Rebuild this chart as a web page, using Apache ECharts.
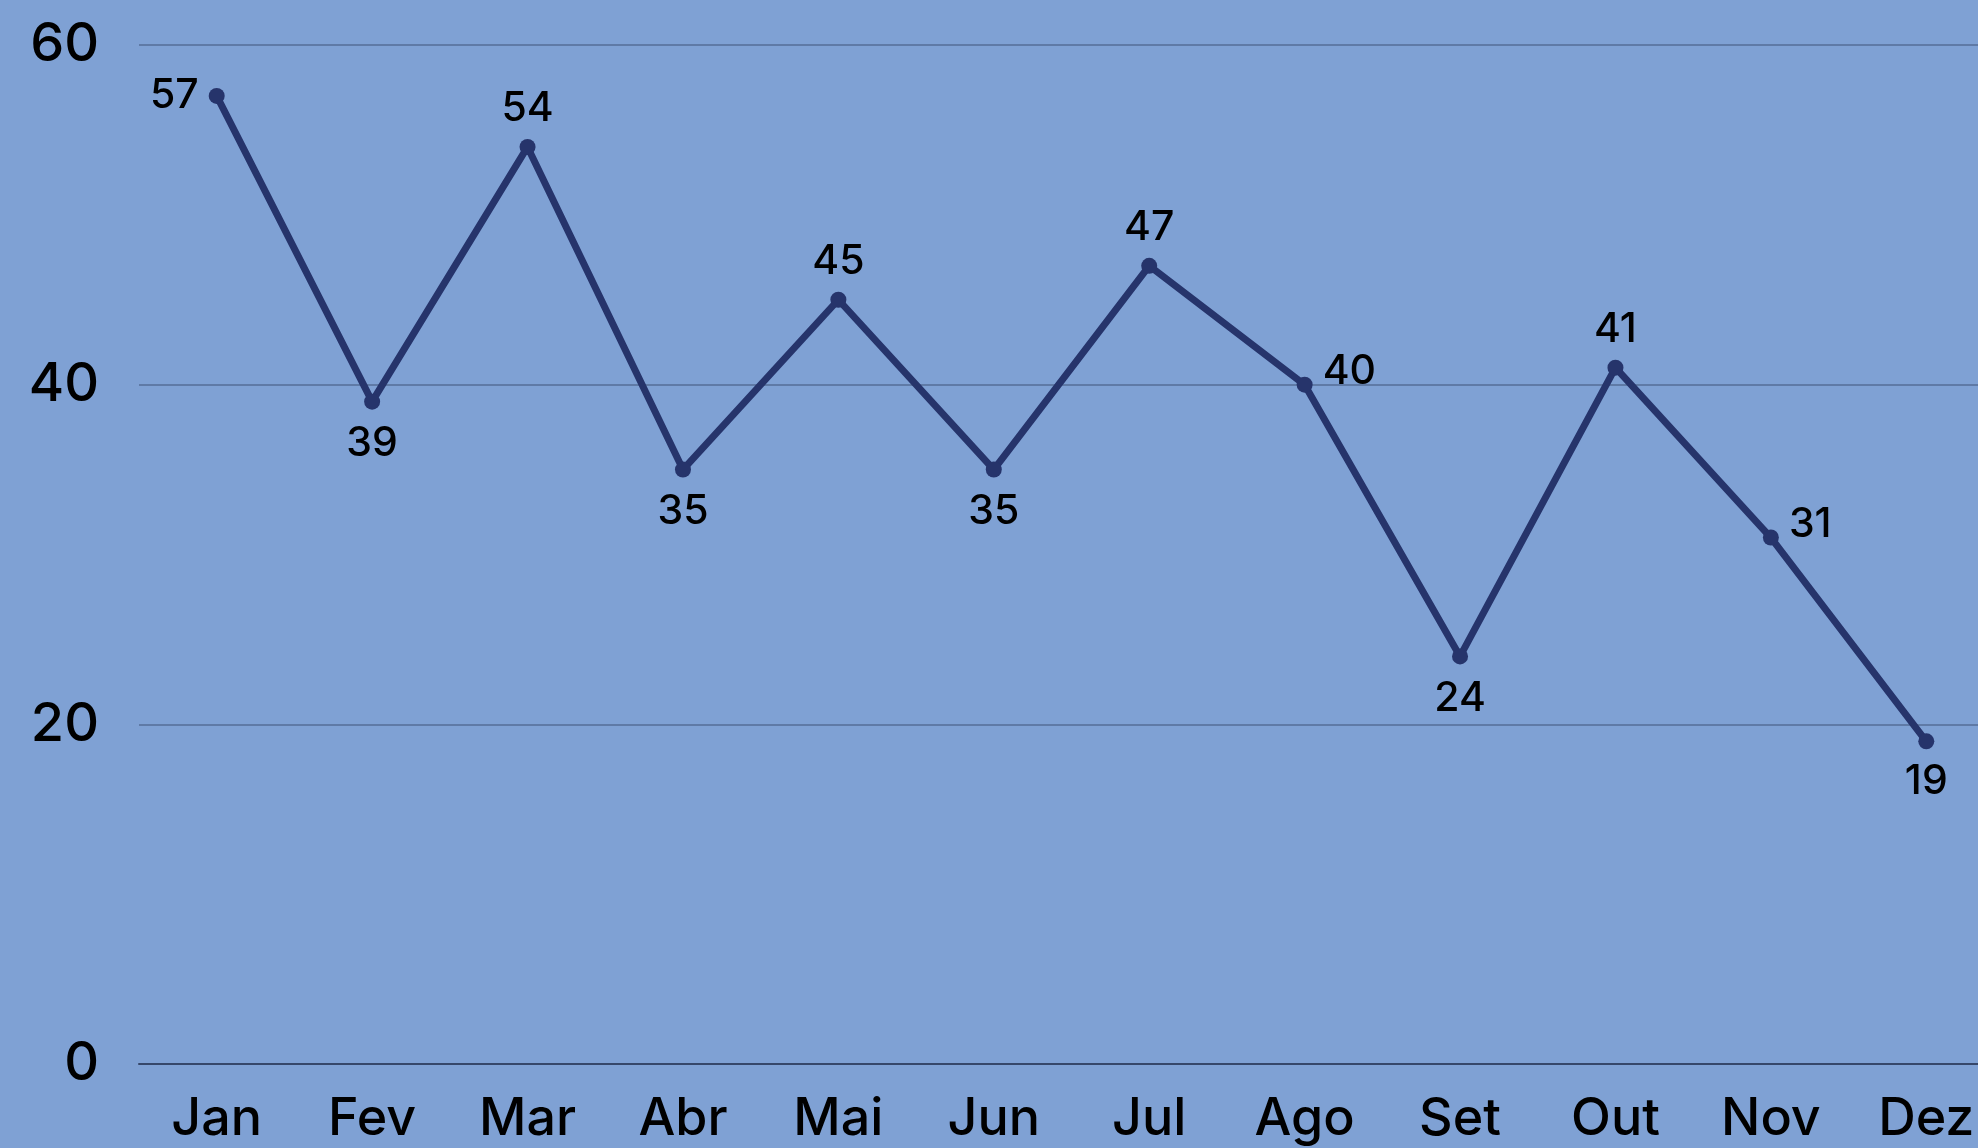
<!DOCTYPE html>
<html>
<head>
<meta charset="utf-8">
<script src="https://cdn.jsdelivr.net/npm/echarts@6/dist/echarts.min.js"></script>
<style>
  html, body { margin: 0; padding: 0; background: #7fa1d4; overflow: hidden; }
  #main { width: 2004px; height: 1148px; }
</style>
</head>
<body>
<div id="main"></div>
<script>
var MONTHS = ['Jan', 'Fev', 'Mar', 'Abr', 'Mai', 'Jun', 'Jul', 'Ago', 'Set', 'Out', 'Nov', 'Dez'];
var VALUES = [57, 39, 54, 35, 45, 35, 47, 40, 24, 41, 31, 19];
var Y_TICKS = [0, 20, 40, 60];

// posição do rótulo: pico em cima, vale embaixo, resto à direita
function labelFor(i){
    var v = VALUES[i];
    if (i == 0) return { position: 'left' };
    if (i == VALUES.length - 1) return { position: 'bottom', distance: 12 };
    if (v > VALUES[i - 1] && v > VALUES[i + 1]) return { position: 'top' };
    if (v < VALUES[i - 1] && v < VALUES[i + 1]) return { position: 'bottom', distance: 14 };
    return { position: 'right', offset: [0, -13] };
}

var seriesData = VALUES.map(function(v, i){
    return { value: v, label: labelFor(i) };
});

var chart = echarts.init(document.getElementById('main'));
chart.setOption({
    backgroundColor: '#7fa1d4',
    animation: false,
    grid: {
        left: 139,
        right: 0,
        top: 45,
        bottom: 84
    },
    xAxis: {
        type: 'category',
        boundaryGap: true,
        data: MONTHS,
        axisLine: { show: true, lineStyle: { color: '#36476a', width: 2 } },
        axisTick: { show: false },
        axisLabel: {
            margin: 29,
            color: '#000',
            fontSize: 52,
            fontWeight: 500,
            fontFamily: 'Inter'
        }
    },
    yAxis: {
        type: 'value',
        min: Y_TICKS[0],
        max: Y_TICKS[Y_TICKS.length - 1],
        interval: 20,
        axisLine: { show: false },
        axisTick: { show: false },
        splitLine: { lineStyle: { color: '#5f7aa6', width: 2 } },
        axisLabel: {
            margin: 40,
            color: '#000',
            fontSize: 54,
            fontWeight: 500,
            fontFamily: 'Inter'
        }
    },
    series: [{
        type: 'line',
        data: seriesData,
        symbol: 'circle',
        symbolSize: 16,
        lineStyle: { color: '#26346b', width: 7 },
        itemStyle: { color: '#26346b' },
        label: {
            show: true,
            distance: 10,
            color: '#000',
            fontSize: 41,
            fontWeight: 500,
            fontFamily: 'Inter'
        }
    }]
});
</script>
</body>
</html>
